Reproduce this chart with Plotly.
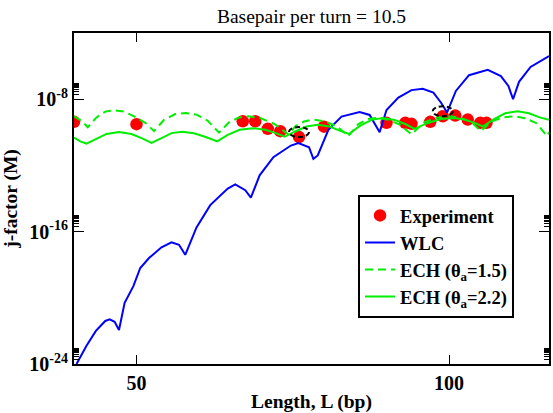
import numpy as np
import plotly.graph_objects as go

# ---------------- data ----------------
# Experiment: length (bp) and log10 of j-factor (M)
exp_L = [40, 50, 67, 69, 71, 73, 76, 80, 90, 93, 94, 97, 99, 101, 103, 105, 106]
exp_logj = [-9.37, -9.51, -9.33, -9.33, -9.79, -9.93, -10.29, -9.66, -9.43, -9.43,
            -9.49, -9.37, -9.03, -8.99, -9.23, -9.43, -9.43]
highlight_L = [76, 99]

# WLC curve
wlc_L = [40.4, 42.0, 43.5, 45.0, 45.7, 46.5, 47.2, 48.1, 49.5, 50.6, 52.0, 54.0, 55.6,
         56.8, 57.8, 59.6, 61.8, 64.6, 65.8, 67.4, 68.3, 69.7, 71.9, 74.7, 75.9, 77.6,
         78.3, 79.0, 80.7, 82.8, 85.7, 87.3, 88.9, 90.0, 91.9, 94.0, 95.8, 97.5, 98.7,
         99.7, 101.1, 103.2, 106.2, 108.3, 109.5, 110.25, 111.2, 113.05, 116.0]
wlc_logj = [-24.0, -22.9, -22.0, -21.4, -21.3, -21.45, -21.95, -20.3, -19.3, -18.2,
            -17.6, -16.95, -16.65, -16.8, -17.4, -15.75, -14.4, -13.4, -13.15, -13.5,
            -13.95, -12.6, -11.5, -10.8, -10.65, -10.9, -11.6, -11.4, -9.85, -9.05,
            -8.77, -8.95, -10.0, -8.65, -7.9, -7.45, -7.37, -7.6, -8.2, -8.8, -7.5,
            -6.55, -6.23, -6.6, -7.2, -8.0, -6.95, -6.05, -5.4]

# ECH, theta_a = 1.5
ech15_L = [40, 41.2, 42.2, 43.6, 45.0, 46.4, 48.0, 49.7, 51.5, 52.8, 54.4, 56.2, 57.9,
           59.6, 61.4, 63.2, 64.8, 66.4, 67.9, 69.9, 72.1, 74.3, 75.5, 76.8, 78.3, 80.2,
           82.1, 83.9, 85.5, 87.0, 88.6, 90.4, 92.2, 94.0, 96.0, 98.2, 100.3, 102.0,
           103.6, 105.1, 106.8, 108.6, 110.4, 112.2, 114.0, 115.7, 116.0]
ech15_logj = [-9.03, -9.3, -9.69, -9.1, -8.75, -8.67, -8.75, -9.05, -9.45, -9.93, -9.25,
              -8.9, -8.83, -8.93, -9.3, -10.02, -9.4, -9.1, -9.03, -9.15, -9.5, -10.13,
              -9.6, -9.35, -9.23, -9.35, -9.65, -10.23, -9.5, -9.2, -9.13, -9.25, -9.55,
              -10.13, -9.4, -9.1, -9.03, -9.15, -9.4, -9.93, -9.35, -9.1, -9.03, -9.15,
              -9.45, -10.23, -10.0]

# ECH, theta_a = 2.2
ech22_L = [40, 41.0, 42.0, 43.5, 45.2, 47.2, 49.2, 51.0, 52.4, 54.0, 55.6, 57.3, 59.2,
           61.2, 62.9, 64.6, 66.5, 68.6, 70.6, 72.3, 73.7, 75.4, 77.2, 79.0, 80.9, 82.5,
           84.0, 85.8, 87.6, 89.4, 91.3, 93.0, 94.5, 96.5, 98.7, 100.9, 102.7, 104.2,
           105.4, 107.2, 109.0, 111.0, 112.8, 114.5, 116.0]
ech22_logj = [-10.32, -10.55, -10.68, -10.4, -10.1, -9.99, -10.1, -10.38, -10.64, -10.35,
              -10.05, -9.96, -10.06, -10.3, -10.55, -10.15, -9.85, -9.75, -9.85, -10.05,
              -10.27, -9.95, -9.65, -9.55, -9.65, -9.9, -10.1, -9.6, -9.25, -9.13, -9.25,
              -9.5, -9.8, -9.45, -9.2, -9.13, -9.25, -9.45, -9.65, -9.2, -8.85, -8.73,
              -8.85, -9.1, -9.25]

x_ticks = [50, 100]
y_major_exp = [-24, -16, -8]
y_minor_mult = [2, 3, 4, 5, 6, 7, 8, 9]

# ---------------- figure ----------------
def tj(v):
    return np.power(10.0, np.array(v, dtype=float))

FONT = "Liberation Serif, Times New Roman, serif"
fig = go.Figure()

fig.add_trace(go.Scatter(x=exp_L, y=tj(exp_logj), mode="markers", name="<b>Experiment</b>",
                         marker=dict(color="#ff0000", size=12.5, line=dict(width=0))))
fig.add_trace(go.Scatter(x=wlc_L, y=tj(wlc_logj), mode="lines", name="<b>WLC</b>",
                         line=dict(color="#0000ff", width=2)))
fig.add_trace(go.Scatter(x=ech15_L, y=tj(ech15_logj), mode="lines",
                         name="<b>ECH (θ<sub>a</sub>=1.5)</b>",
                         line=dict(color="#00ee00", width=2, dash="8px,5px")))
fig.add_trace(go.Scatter(x=ech22_L, y=tj(ech22_logj), mode="lines",
                         name="<b>ECH (θ<sub>a</sub>=2.2)</b>",
                         line=dict(color="#00ee00", width=2)))
# dummy trace for minor-tick overlay axis
fig.add_trace(go.Scatter(x=[40], y=[1e-30], yaxis="y2", mode="markers",
                         marker=dict(opacity=0), showlegend=False, hoverinfo="skip"))

shapes = []
for L in highlight_L:
    i = exp_L.index(L)
    shapes.append(dict(type="circle", xref="x", yref="y", xsizemode="pixel",
                       ysizemode="pixel", xanchor=L, yanchor=float(tj(exp_logj[i])),
                       x0=-10, x1=10, y0=-10, y1=10, layer="above",
                       line=dict(color="black", width=2, dash="5px,3px")))

minor_vals = [m * 10.0 ** e for e in y_major_exp for m in y_minor_mult]

fig.update_layout(
    width=553, height=413,
    margin=dict(l=74, r=2, t=33, b=46),
    paper_bgcolor="white", plot_bgcolor="white",
    font=dict(family=FONT, color="black", size=19),
    title=dict(text="Basepair per turn = 10.5", x=0.5, xref="paper", y=0.962,
               yref="container", yanchor="middle", xanchor="center",
               font=dict(family=FONT, size=19.5)),
    showlegend=True,
    legend=dict(x=0.598, y=0.511, xanchor="left", yanchor="top",
                bordercolor="black", borderwidth=2, bgcolor="white",
                font=dict(family=FONT, size=18.5), tracegroupgap=0),
    shapes=shapes,
    xaxis=dict(range=[40, 116], tickvals=x_ticks, ticks="inside", ticklen=9,
               tickwidth=1, tickcolor="black", showline=True, linewidth=2,
               linecolor="black", mirror="ticks", showgrid=False, zeroline=False,
               tickfont=dict(family=FONT, size=20, weight="bold"),
               title=dict(text="<b>Length, L (bp)</b>", standoff=3,
                          font=dict(family=FONT, size=19.5))),
    yaxis=dict(type="log", range=[-24, -4], tickvals=[10.0 ** e for e in y_major_exp],
               ticktext=["10<sup>%d</sup>" % e for e in y_major_exp],
               ticks="inside", ticklen=10, tickwidth=1, tickcolor="black",
               showline=True, linewidth=2, linecolor="black", mirror="ticks",
               showgrid=False, zeroline=False,
               tickfont=dict(family=FONT, size=20, weight="bold"),
               title=dict(text="<b>j-factor (M)</b>", standoff=8,
                          font=dict(family=FONT, size=19.5))),
    yaxis2=dict(type="log", range=[-24, -4], overlaying="y", side="left",
                tickvals=minor_vals, showticklabels=False, ticks="inside",
                ticklen=5, tickwidth=1, tickcolor="black", mirror="ticks",
                showline=False, showgrid=False, zeroline=False),
)

fig.write_html("out.html")
